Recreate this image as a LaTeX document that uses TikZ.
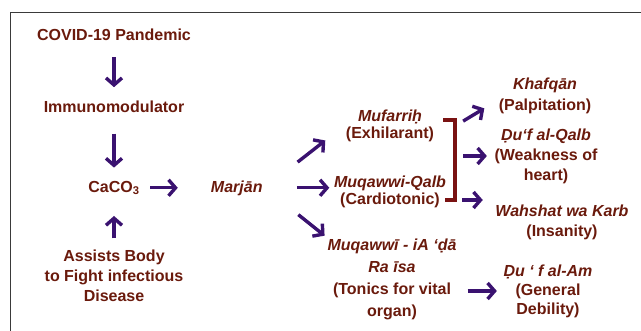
\documentclass[tikz,border=0pt]{standalone}
\usepackage{fontspec}
\setmainfont{Liberation Sans}
\usetikzlibrary{arrows.meta, positioning}
\definecolor{termred}{HTML}{6A1A0C}
\definecolor{arrowpurple}{HTML}{3A1270}
\definecolor{bracketred}{HTML}{7A1212}
\definecolor{framegray}{HTML}{3A3A3A}
\tikzset{
    term/.style={
        text=termred,
        font=\bfseries\fontsize{16}{19}\selectfont,
        align=center,
        inner sep=2pt
    },
    word/.style={
        term,
        text height=12pt,
        text depth=3pt
    },
    lines/.style={
        font=\bfseries\fontsize{16}{#1}\selectfont
    },
    arrow/.style={
        draw=arrowpurple,
        line width=3.4pt,
        -{Straight Barb[length=7pt,width=16pt]}
    },
    bracket/.style={
        draw=bracketred,
        line width=4.5pt
    }
}

\begin{document}
\begin{tikzpicture}[x=1pt, y=-1pt]
\useasboundingbox (0,0) rectangle (641,331);
\draw[framegray, line width=1.2pt] (641,12.5) -- (10.5,12.5) -- (10.5,331);

\node (covid) [word] at (114,36) {COVID-19 Pandemic};
\node (immuno) [word, below=53pt of covid] {Immunomodulator};
\node (caco) [word, below=60pt of immuno] {CaCO\textsubscript{3}};
\node (assists) [term, lines=20, below=50pt of caco] {Assists Body\\to Fight infectious\\Disease};
\node (marjan) [word, right=67pt of caco] {\itshape Marjān};

\node (mufarrih) [term, lines=17] at (390,126) {\itshape Mufarriḥ\\(Exhilarant)};
\node (qalb) [term, lines=17] at (390,192) {\itshape Muqawwi-Qalb\\(Cardiotonic)};
\node (raisa) [term, lines=22] at (392,279) {\itshape Muqawwī - iA ‘ḍā\\\itshape Ra īsa\\(Tonics for vital\\organ)};

\node (khafqan) [term, lines=21] at (545,96) {\itshape Khafqān\\(Palpitation)};
\node (dufqalb) [term, lines=20] at (546,156) {\itshape Ḍu‘f al-Qalb\\(Weakness of\\heart)};
\node (wahshat) [term, lines=20] at (562,222) {\itshape Wahshat wa Karb\\(Insanity)};
\node (dufam) [term, lines=19] at (548,291) {\itshape Ḍu ‘ f al-Am\\(General\\Debility)};

\coordinate (btop) at (455,120);
\coordinate (bk) at (455,126);
\coordinate (bmid) at (455,156);
\coordinate (bbot) at (455,200);

% left column
\draw [arrow, shorten <=11.5pt, shorten >=11.5pt] (covid) -- (immuno);
\draw [arrow, shorten <=15.5pt, shorten >=10.5pt] (immuno) -- (caco);
\draw [arrow, shorten <=9pt, shorten >=18.5pt] (assists) -- (caco);
\draw [arrow, shorten <=8.5pt, shorten >=31pt] (caco) -- (marjan);

% from Marjan
\draw [arrow, shorten <=41.7pt, shorten >=23.5pt] (marjan.east) -- (mufarrih.west);
\draw [arrow, shorten <=32pt, shorten >=2.5pt] (marjan.east) -- (marjan.east -| qalb.west);
\draw [arrow, shorten <=43pt, shorten >=1pt] (marjan.east) -- (raisa.north west);

% bracket and effects
\draw [bracket] ([xshift=-12pt]btop) -- (btop) -- (bbot) -- ([xshift=-10pt]bbot);
\draw [arrow, shorten <=9.5pt, shorten >=14.3pt] (bk) -- ([yshift=-5pt]khafqan.west);
\draw [arrow, shorten <=8pt, shorten >=5.5pt] (bmid) -- (dufqalb.west);
\draw [arrow, shorten <=7pt, shorten >=10.5pt] (bbot) -- (bbot -| wahshat.west);
\draw [arrow, shorten <=9pt, shorten >=4.5pt] (raisa.east |- dufam.west) -- (dufam.west);

\end{tikzpicture}
\end{document}
